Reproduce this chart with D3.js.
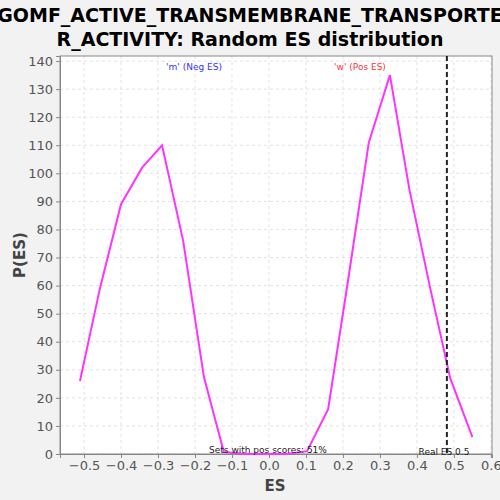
<!DOCTYPE html>
<html><head><meta charset="utf-8">
<script src="https://cdn.jsdelivr.net/npm/d3@7"></script>
<style>body{margin:0;background:#f2f2f2;}</style>
</head><body><svg width="500" height="500"></svg>
<script>
const esValues = [-0.511, -0.457, -0.40, -0.343, -0.289, -0.232, -0.176, -0.122, -0.065, -0.008, 0.046, 0.103, 0.16, 0.214, 0.27, 0.327, 0.38, 0.436, 0.49, 0.55];
const density = [26, 59, 89, 102, 110, 76, 27.5, 0.7, 0, 0, 0, 1, 16, 62, 111, 135, 94, 59, 27, 6];
const xTicks = [-0.5, -0.4, -0.3, -0.2, -0.1, 0.0, 0.1, 0.2, 0.3, 0.4, 0.5, 0.6];
const yTicks = [0, 10, 20, 30, 40, 50, 60, 70, 80, 90, 100, 110, 120, 130, 140];
const realES = 0.481;

const svg = d3.select("svg");
const m = {l: 60, r: 8, t: 56, b: 46};
const W = 500, H = 500;
const x = d3.scaleLinear().domain([-0.565, 0.603]).range([m.l, W - m.r]);
const y = d3.scaleLinear().domain([0, 141.8]).range([H - m.b, m.t]);

svg.append("rect").attr("x", m.l).attr("y", m.t).attr("width", W - m.r - m.l).attr("height", H - m.b - m.t).attr("fill", "#fff");

// grid
svg.append("g").selectAll("line").data(xTicks).join("line")
  .attr("x1", d => x(d)).attr("x2", d => x(d)).attr("y1", m.t).attr("y2", H - m.b)
  .attr("stroke", "#e2e2e2").attr("stroke-dasharray", "3,3");
svg.append("g").selectAll("line").data(yTicks).join("line")
  .attr("y1", d => y(d)).attr("y2", d => y(d)).attr("x1", m.l).attr("x2", W - m.r)
  .attr("stroke", "#e2e2e2").attr("stroke-dasharray", "3,3");

svg.append("rect").attr("x", m.l).attr("y", m.t).attr("width", W - m.r - m.l).attr("height", H - m.b - m.t)
  .attr("fill", "none").attr("stroke", "#888");

const xa = svg.append("g").attr("transform", `translate(0,${H - m.b})`)
  .call(d3.axisBottom(x).tickValues(xTicks).tickFormat(d3.format(".1f")).tickSize(4));
const ya = svg.append("g").attr("transform", `translate(${m.l},0)`)
  .call(d3.axisLeft(y).tickValues(yTicks).tickSize(4));
[xa, ya].forEach(a => {
  a.select(".domain").attr("stroke", "#888");
  a.selectAll(".tick line").attr("stroke", "#888");
  a.selectAll("text").attr("fill", "#555").style("font-family", "DejaVu Sans").style("font-size", "13px");
});

svg.append("path").datum(esValues.map((e, i) => [e, density[i]]))
  .attr("fill", "none").attr("stroke", "#ff33ff").attr("stroke-width", 2)
  .attr("d", d3.line().x(d => x(d[0])).y(d => y(d[1])));

svg.append("line").attr("x1", x(realES)).attr("x2", x(realES)).attr("y1", m.t).attr("y2", H - m.b)
  .attr("stroke", "#222").attr("stroke-width", 2).attr("stroke-dasharray", "5,3");

const f = "DejaVu Sans";
svg.append("text").attr("x", 250).attr("y", 22).attr("text-anchor", "middle")
  .style("font-family", f).style("font-weight", "bold").style("font-size", "19px").text("GOMF_ACTIVE_TRANSMEMBRANE_TRANSPORTE");
svg.append("text").attr("x", 250).attr("y", 46).attr("text-anchor", "middle")
  .style("font-family", f).style("font-weight", "bold").style("font-size", "19px").text("R_ACTIVITY: Random ES distribution");
svg.append("text").attr("x", 194).attr("y", 70).attr("text-anchor", "middle").attr("fill", "#3333ff")
  .style("font-family", f).style("font-size", "9px").text("'m' (Neg ES)");
svg.append("text").attr("x", 360).attr("y", 70).attr("text-anchor", "middle").attr("fill", "#ff3333")
  .style("font-family", f).style("font-size", "9px").text("'w' (Pos ES)");
svg.append("text").attr("x", 268).attr("y", 453).attr("text-anchor", "middle").attr("fill", "#222")
  .style("font-family", f).style("font-size", "9px").text("Sets with pos scores: 51%");
svg.append("text").attr("x", 444).attr("y", 455).attr("text-anchor", "middle").attr("fill", "#222")
  .style("font-family", f).style("font-size", "9px").text("Real ES 0.5");
svg.append("text").attr("x", 275).attr("y", 491).attr("text-anchor", "middle").attr("fill", "#444")
  .style("font-family", f).style("font-weight", "bold").style("font-size", "15px").text("ES");
svg.append("text").attr("transform", "translate(25,255) rotate(-90)").attr("text-anchor", "middle").attr("fill", "#444")
  .style("font-family", f).style("font-weight", "bold").style("font-size", "15px").text("P(ES)");
</script></body></html>
